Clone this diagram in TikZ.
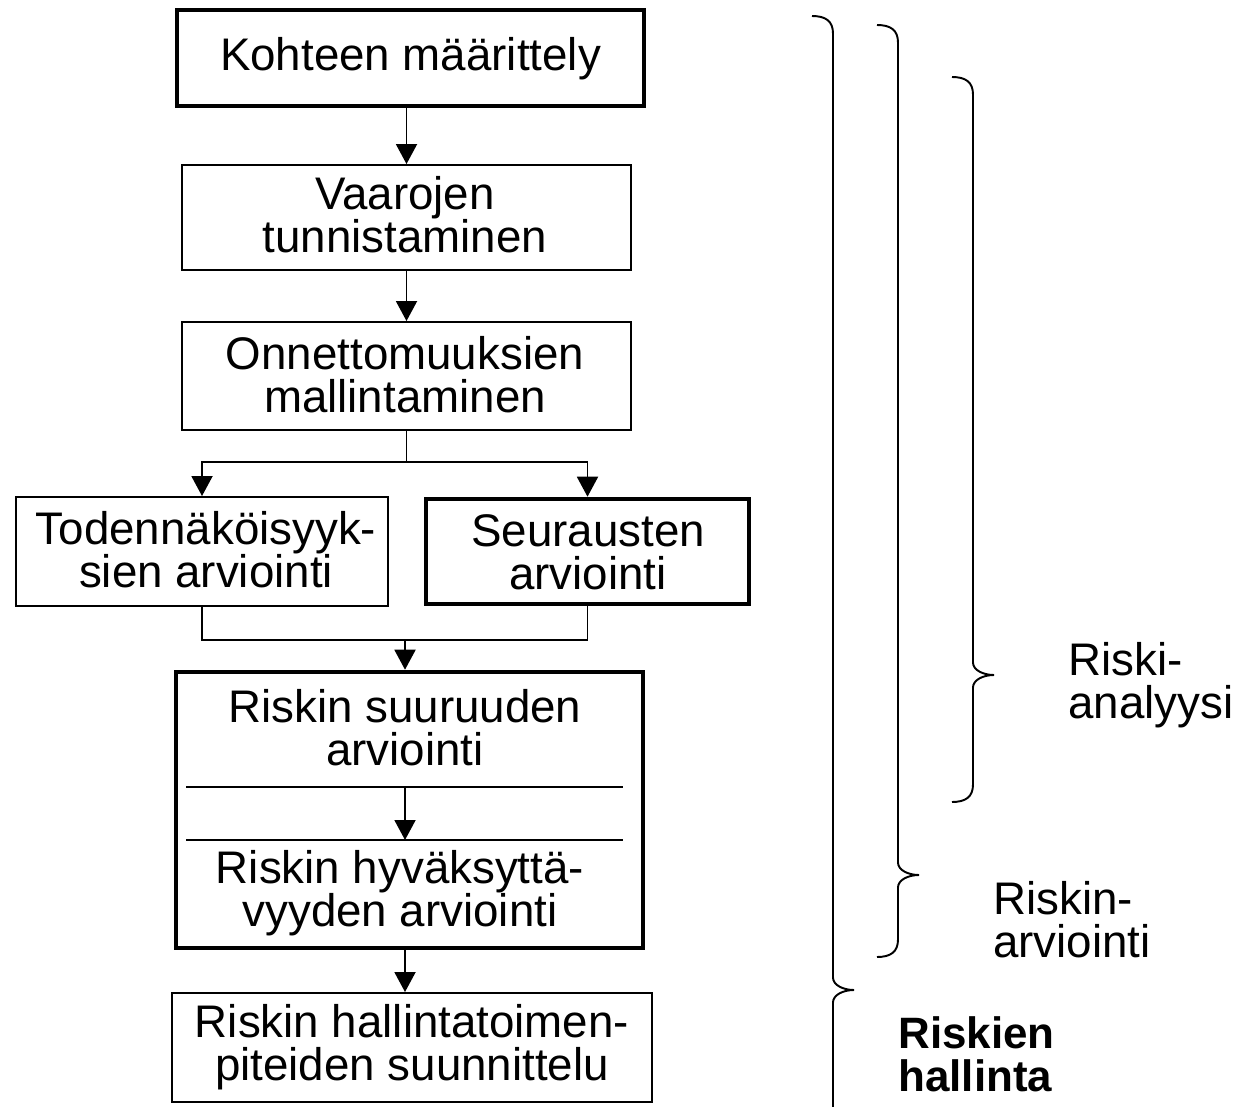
\documentclass[tikz,border=0pt]{standalone}
\usepackage{fontspec}
\setmainfont{Liberation Sans}
\usetikzlibrary{arrows.meta,calc}
\newcommand{\myBrace}[4]{%
  \draw[brc] (#1-0.42,#2) .. controls (#1-0.15,#2) and (#1,#2-0.1) .. (#1,#2-0.35)
    -- (#1,#3+0.25) .. controls (#1,#3+0.1) and (#1+0.2,#3) .. (#1+0.42,#3)
    .. controls (#1+0.2,#3) and (#1,#3-0.1) .. (#1,#3-0.25)
    -- (#1,#4+0.35) .. controls (#1,#4+0.1) and (#1-0.15,#4) .. (#1-0.42,#4);}
\tikzset{
  txt/.style={font=\fontsize{26}{24.5}\selectfont, align=center, inner sep=0pt},
  thinbox/.style={draw, line width=1.1pt, inner sep=0pt},
  thickbox/.style={draw, line width=2.6pt, inner sep=0pt},
  arr/.style={line width=1.1pt, -{Triangle[width=0.42cm,length=0.4cm]}},
  conn/.style={line width=1.1pt},
  brc/.style={line width=1.1pt},
  lbl/.style={font=\fontsize{26}{24.5}\selectfont, align=left, inner sep=0pt, anchor=west}
}
\begin{document}
\begin{tikzpicture}
\useasboundingbox (0,0) rectangle (24.76,-22.14);
\fill[white] (0,0) rectangle (24.76,-22.14);
% boxes
\node[thickbox, minimum width=9.34cm, minimum height=1.92cm] (b1) at (8.21,-1.16) {};
\node[txt] (t1) at (8.21,-1.18) {Kohteen määrittely};
\node[thinbox, minimum width=8.98cm, minimum height=2.10cm] (b2) at (8.13,-4.35) {};
\node[txt] (t2) at (8.1,-4.3) {Vaarojen\\tunnistaminen};
\node[thinbox, minimum width=8.98cm, minimum height=2.16cm] (b3) at (8.13,-7.52) {};
\node[txt] (t3) at (8.1,-7.5) {Onnettomuuksien\\mallintaminen};
\node[thinbox, minimum width=7.44cm, minimum height=2.18cm] (b4) at (4.04,-11.03) {};
\node[txt] (t4) at (4.12,-11.0) {Todennäköisyyk-\\sien arviointi};
\node[thickbox, minimum width=6.46cm, minimum height=2.10cm] (b5) at (11.75,-11.03) {};
\node[txt] (t5) at (11.76,-11.04) {Seurausten\\arviointi};
\node[thickbox, minimum width=9.34cm, minimum height=5.52cm] (b6) at (8.19,-16.2) {};
\node[txt] (t6a) at (8.1,-14.56) {Riskin suuruuden\\arviointi};
\node[txt] (t6b) at (8.0,-17.86) {Riskin hyväksyttä-\\vyyden arviointi};
\node[thinbox, minimum width=9.6cm, minimum height=2.18cm] (b7) at (8.24,-20.95) {};
\node[txt] (t7) at (8.24,-20.95) {Riskin hallintatoimen-\\piteiden suunnittelu};
% inner lines of b6
\coordinate (la1) at (3.72,-15.74);
\coordinate (la2) at (12.46,-15.74);
\coordinate (lb1) at (3.72,-16.8);
\coordinate (lb2) at (12.46,-16.8);
\draw[conn] (la1) -- (la2);
\draw[conn] (lb1) -- (lb2);
\coordinate (ia) at (8.1,-15.74);
\coordinate (ib) at (8.1,-16.8);
\draw[arr] (ia) -- (ib);
% connectors
\draw[arr] (b1.south -| b2.north) -- (b2.north);
\draw[arr] (b2.south) -- (b3.north);
\coordinate (split) at (8.13,-9.24);
\draw[conn] (b3.south) -- (split);
\draw[arr] (split) -| (b4.north);
\draw[arr] (split) -| (b5.north);
\coordinate (mg) at (8.1,-12.8);
\draw[conn] (b4.south) |- (b5.south |- mg) -- (b5.south);
\draw[arr] (mg) -- (mg |- b6.north);
\draw[arr] (b6.south -| mg) -- (b7.north -| mg);
% braces
\myBrace{16.66}{-0.32}{-19.8}{-22.9}
\myBrace{17.96}{-0.5}{-17.5}{-19.14}
\myBrace{19.46}{-1.54}{-13.5}{-16.04}
% labels
\node[lbl] (la) at (21.36,-13.7) {Riski-\\analyysi};
\node[lbl] (lr) at (19.86,-18.4) {Riskin-\\arviointi};
\node[lbl, font=\fontsize{25}{24.5}\selectfont\bfseries] (lh) at (17.96,-21.08) {Riskien\\hallinta};
\end{tikzpicture}
\end{document}
